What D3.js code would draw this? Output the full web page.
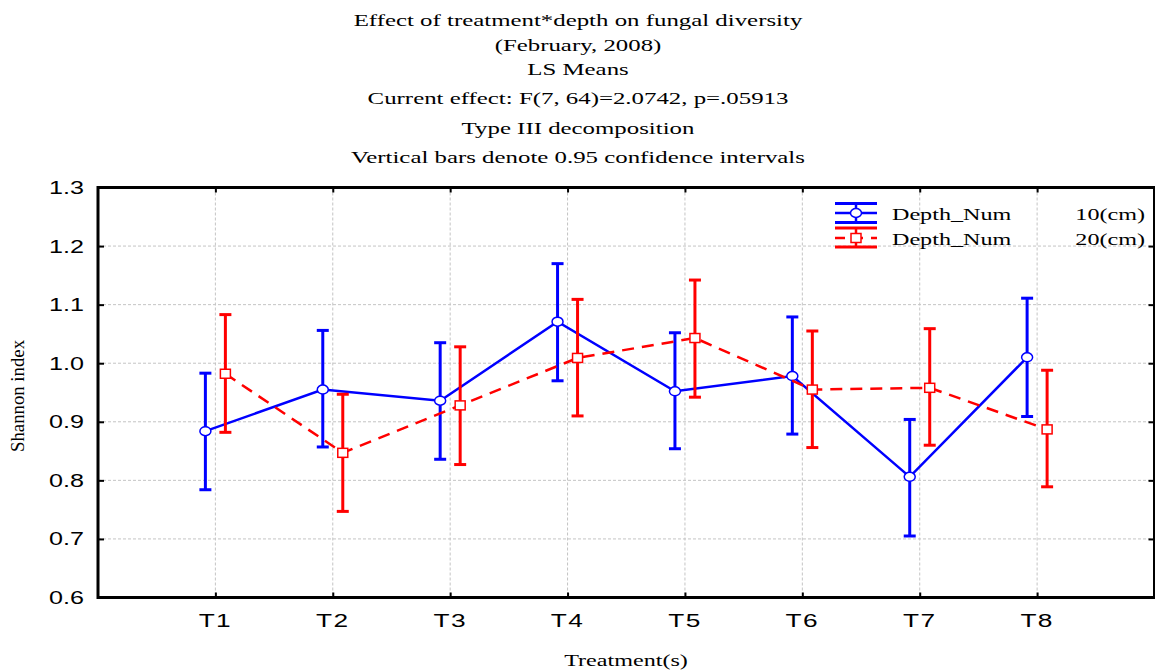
<!DOCTYPE html>
<html>
<head>
<meta charset="utf-8">
<script src="https://cdn.jsdelivr.net/npm/d3@7"></script>
<style>
    body { margin: 0; background: #fff; }
</style>
</head>
<body>
<svg id="drawing_region"></svg>
<script>
var treatments = ['T1', 'T2', 'T3', 'T4', 'T5', 'T6', 'T7', 'T8'];
var yTicks = [0.6, 0.7, 0.8, 0.9, 1.0, 1.1, 1.2, 1.3];

// depth 10 cm
var mean10 = [0.884, 0.955, 0.936, 1.071, 0.952, 0.978, 0.806, 1.010];
var low10  = [0.784, 0.857, 0.836, 0.970, 0.854, 0.879, 0.705, 0.909];
var high10 = [0.983, 1.056, 1.035, 1.170, 1.052, 1.079, 0.904, 1.111];

// depth 20 cm
var mean20 = [0.982, 0.847, 0.928, 1.009, 1.043, 0.955, 0.958, 0.887];
var low20  = [0.882, 0.747, 0.827, 0.910, 0.942, 0.856, 0.860, 0.789];
var high20 = [1.083, 0.947, 1.028, 1.109, 1.142, 1.055, 1.059, 0.988];

var titleLines = [
    'Effect of treatment*depth on fungal diversity',
    '(February, 2008)',
    'LS Means',
    'Current effect: F(7, 64)=2.0742, p=.05913',
    'Type III decomposition',
    'Vertical bars denote 0.95 confidence intervals'
];

var W = 1155, H = 671;
var plotL = 98, plotR = 1154.5, plotT = 187.5, plotB = 597.5;
var SX = 1.42;  // the original picture is stretched sideways
var SERIF = "'Liberation Serif', 'Times New Roman', serif";
var SANS = "'Liberation Sans', Arial, sans-serif";

var svg = d3.select('#drawing_region')
    .attr('width', W)
    .attr('height', H);

var xScale = d3.scaleLinear()
    .domain([0, treatments.length + 1])
    .range([plotL, plotR]);

var yScale = d3.scaleLinear()
    .domain([0.6, 1.3])
    .range([plotB, plotT]);

// text drawn with the sideways stretch of the original
function wideText(g, x, y, anchor, size, family, str) {
    return g.append('text')
        .attr('transform', 'translate(' + x + ',' + y + ') scale(' + SX + ',1)')
        .attr('text-anchor', anchor)
        .style('font-family', family)
        .style('font-size', size + 'px')
        .text(str);
}

// title block
var titleY = [26, 51, 75, 104, 134, 163];
titleLines.forEach(function(t, i) {
    wideText(svg, 578, titleY[i], 'middle', 17.5, SERIF, t);
});

// grid
svg.append('g')
    .selectAll('line')
    .data(yTicks.slice(1, -1))
    .enter()
    .append('line')
    .attr('x1', plotL).attr('x2', plotR)
    .attr('y1', d => yScale(d)).attr('y2', d => yScale(d))
    .attr('stroke', '#c4c4c4')
    .attr('stroke-dasharray', '3,2');

svg.append('g')
    .selectAll('line')
    .data(treatments)
    .enter()
    .append('line')
    .attr('x1', (d, i) => xScale(i + 1)).attr('x2', (d, i) => xScale(i + 1))
    .attr('y1', plotT).attr('y2', plotB)
    .attr('stroke', '#c4c4c4')
    .attr('stroke-dasharray', '3,2');

// y axis (ticks pointing inward)
var yAxis = svg.append('g')
    .attr('transform', 'translate(' + plotL + ',0)')
    .call(d3.axisRight(yScale).tickValues(yTicks).tickSize(6).tickFormat(''));
yAxis.select('.domain').remove();
yAxis.selectAll('line').attr('stroke', '#000').attr('stroke-width', 2);

var yAxisR = svg.append('g')
    .attr('transform', 'translate(' + plotR + ',0)')
    .call(d3.axisLeft(yScale).tickValues(yTicks).tickSize(6).tickFormat(''));
yAxisR.select('.domain').remove();
yAxisR.selectAll('line').attr('stroke', '#000').attr('stroke-width', 2);

yTicks.forEach(function(v) {
    wideText(svg, 84, yScale(v) + 6.5, 'end', 17.7, SANS, v.toFixed(1));
});

// x axis ticks
var xTickPos = treatments.map((d, i) => i + 1);
var xAxis = svg.append('g')
    .attr('transform', 'translate(0,' + plotB + ')')
    .call(d3.axisTop(xScale).tickValues(xTickPos).tickSize(5).tickFormat(''));
xAxis.select('.domain').remove();
xAxis.selectAll('line').attr('stroke', '#000').attr('stroke-width', 2);

var xAxisT = svg.append('g')
    .attr('transform', 'translate(0,' + plotT + ')')
    .call(d3.axisBottom(xScale).tickValues(xTickPos).tickSize(5).tickFormat(''));
xAxisT.select('.domain').remove();
xAxisT.selectAll('line').attr('stroke', '#000').attr('stroke-width', 2);

treatments.forEach(function(t, i) {
    wideText(svg, xScale(i + 1), 627, 'middle', 18.5, SANS, t)
        .style('letter-spacing', '1px');
});

// frame
svg.append('rect')
    .attr('x', plotL).attr('y', plotT)
    .attr('width', plotR - plotL).attr('height', plotB - plotT)
    .attr('fill', 'none')
    .attr('stroke', '#000')
    .attr('stroke-width', 3);

// axis titles
wideText(svg, 626, 666, 'middle', 17, SERIF, 'Treatment(s)');

svg.append('text')
    .attr('transform', 'translate(24,396) rotate(-90) scale(1,1.3)')
    .attr('text-anchor', 'middle')
    .attr('textLength', 112)
    .attr('lengthAdjust', 'spacingAndGlyphs')
    .style('font-family', SERIF)
    .style('font-size', '14px')
    .text('Shannon index');

// series
var series = [
    { mean: mean10, low: low10, high: high10, color: '#0000ff', off: -10, dash: null, shape: 'circle' },
    { mean: mean20, low: low20, high: high20, color: '#ff0000', off: 10, dash: '12,8', shape: 'square' }
];

series.forEach(function(s) {
    var pts = s.mean.map((m, i) => ({ i: i + 1, m: m, lo: s.low[i], hi: s.high[i] }));
    var g = svg.append('g');

    g.append('path')
        .datum(pts)
        .attr('fill', 'none')
        .attr('stroke', s.color)
        .attr('stroke-width', 2.5)
        .attr('stroke-dasharray', s.dash)
        .attr('d', d3.line().x(d => xScale(d.i) + s.off).y(d => yScale(d.m)));

    g.selectAll('.bar')
        .data(pts)
        .enter()
        .append('line')
        .attr('x1', d => xScale(d.i) + s.off).attr('x2', d => xScale(d.i) + s.off)
        .attr('y1', d => yScale(d.lo)).attr('y2', d => yScale(d.hi))
        .attr('stroke', s.color)
        .attr('stroke-width', 3);

    ['lo', 'hi'].forEach(function(k) {
        g.selectAll('.cap' + k)
            .data(pts)
            .enter()
            .append('line')
            .attr('x1', d => xScale(d.i) + s.off - 6).attr('x2', d => xScale(d.i) + s.off + 6)
            .attr('y1', d => yScale(d[k])).attr('y2', d => yScale(d[k]))
            .attr('stroke', s.color)
            .attr('stroke-width', 3);
    });

    if (s.shape === 'circle') {
        g.selectAll('.mk')
            .data(pts)
            .enter()
            .append('ellipse')
            .attr('cx', d => xScale(d.i) + s.off)
            .attr('cy', d => yScale(d.m))
            .attr('rx', 5.5).attr('ry', 4.5)
            .attr('fill', '#fff')
            .attr('stroke', s.color)
            .attr('stroke-width', 1.5);
    } else {
        g.selectAll('.mk')
            .data(pts)
            .enter()
            .append('rect')
            .attr('x', d => xScale(d.i) + s.off - 5)
            .attr('y', d => yScale(d.m) - 4.5)
            .attr('width', 10).attr('height', 9)
            .attr('fill', '#fff')
            .attr('stroke', s.color)
            .attr('stroke-width', 1.5);
    }
});

// legend
var lg = svg.append('g');
var lx0 = 835, lx1 = 877, lxc = 856;

// blue entry
[203.5, 222.5].forEach(function(y) {
    lg.append('line').attr('x1', lx0).attr('x2', lx1).attr('y1', y).attr('y2', y)
        .attr('stroke', '#0000ff').attr('stroke-width', 3);
});
lg.append('line').attr('x1', lxc).attr('x2', lxc).attr('y1', 203.5).attr('y2', 222.5)
    .attr('stroke', '#0000ff').attr('stroke-width', 2.5);
lg.append('line').attr('x1', lx0).attr('x2', lx1).attr('y1', 213).attr('y2', 213)
    .attr('stroke', '#0000ff').attr('stroke-width', 2.5);
lg.append('ellipse').attr('cx', lxc).attr('cy', 213).attr('rx', 5.5).attr('ry', 4.5)
    .attr('fill', '#fff').attr('stroke', '#0000ff').attr('stroke-width', 1.5);

// red entry
[228, 247].forEach(function(y) {
    lg.append('line').attr('x1', lx0).attr('x2', lx1).attr('y1', y).attr('y2', y)
        .attr('stroke', '#ff0000').attr('stroke-width', 3);
});
lg.append('line').attr('x1', lxc).attr('x2', lxc).attr('y1', 228).attr('y2', 247)
    .attr('stroke', '#ff0000').attr('stroke-width', 2.5);
lg.append('line').attr('x1', lx0).attr('x2', lx1).attr('y1', 238).attr('y2', 238)
    .attr('stroke', '#ff0000').attr('stroke-width', 2.5).attr('stroke-dasharray', '10,8');
lg.append('rect').attr('x', lxc - 5).attr('y', 233.5).attr('width', 10).attr('height', 9)
    .attr('fill', '#fff').attr('stroke', '#ff0000').attr('stroke-width', 1.5);

var legendText = [['Depth_Num', '10(cm)', 220], ['Depth_Num', '20(cm)', 245]];
legendText.forEach(function(t) {
    wideText(lg, 892, t[2], 'start', 17, SERIF, t[0]);
    wideText(lg, 1145, t[2], 'end', 17, SERIF, t[1]);
});
</script>
</body>
</html>
